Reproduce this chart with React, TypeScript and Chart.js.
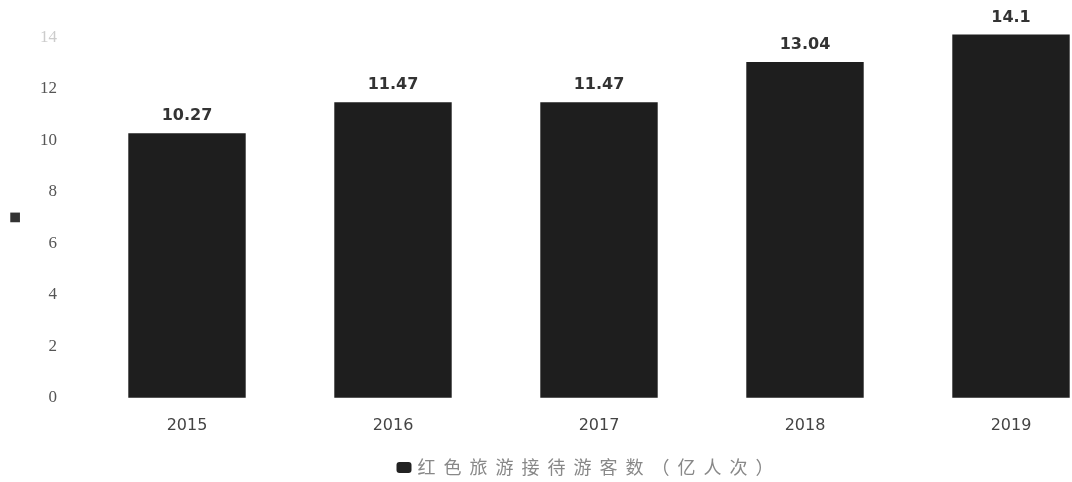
import React, { useEffect, useRef } from "react";
import { Chart, registerables } from "chart.js";

Chart.register(...registerables);

const categories = ["2015", "2016", "2017", "2018", "2019"];
const visitors = [10.27, 11.47, 11.47, 13.04, 14.1];
const yTicks = [0, 2, 4, 6, 8, 10, 12, 14];
const seriesLabel = "红色旅游接待游客数（亿人次）";

const valueLabels = {
  id: "valueLabels",
  afterDatasetsDraw(chart: any) {
    const ctx = chart.ctx;
    const meta = chart.getDatasetMeta(0);
    ctx.save();
    ctx.font = "bold 16px 'DejaVu Sans', sans-serif";
    ctx.fillStyle = "#333";
    ctx.textAlign = "center";
    ctx.textBaseline = "alphabetic";
    meta.data.forEach((bar: any, i: number) => {
      ctx.fillText(String(visitors[i]), bar.x, bar.y - 13);
    });
    ctx.restore();
  },
};

const bottomLegend = {
  id: "bottomLegend",
  afterDraw(chart: any) {
    const ctx = chart.ctx;
    ctx.save();
    ctx.font = "18px 'Noto Sans CJK SC', sans-serif";
    (ctx as any).letterSpacing = "8px";
    const tw = ctx.measureText(seriesLabel).width;
    const boxW = 15;
    const gap = 6;
    const total = boxW + gap + tw;
    const cx = chart.width / 2;
    const cy = 467;
    const x0 = cx - total / 2;
    ctx.fillStyle = "#222";
    ctx.beginPath();
    (ctx as any).roundRect(x0, cy - 5, boxW, 11, 3);
    ctx.fill();
    ctx.fillStyle = "#888";
    ctx.textAlign = "left";
    ctx.textBaseline = "middle";
    ctx.fillText(seriesLabel, x0 + boxW + gap, cy);
    ctx.restore();
  },
};

export default function App() {
  const ref = useRef<HTMLCanvasElement | null>(null);
  useEffect(() => {
    document.body.style.margin = "0";
    document.body.style.overflow = "hidden";
    const chart = new Chart(ref.current as HTMLCanvasElement, {
      type: "bar",
      data: {
        labels: categories,
        datasets: [
          {
            label: seriesLabel,
            data: visitors,
            backgroundColor: "#1e1e1e",
            barPercentage: 0.57,
            categoryPercentage: 1,
            clip: false as any,
          },
        ],
      },
      options: {
        animation: false,
        responsive: true,
        maintainAspectRatio: false,
        layout: { padding: { top: 36, right: 64, bottom: 29, left: 0 } },
        plugins: {
          legend: { display: false },
          tooltip: { enabled: false },
        },
        scales: {
          x: {
            offset: true,
            grid: { display: false, drawTicks: false },
            border: { display: false },
            ticks: {
              padding: 18,
              color: "#444",
              font: { family: "'DejaVu Sans', sans-serif", size: 16 },
            },
          },
          y: {
            min: 0,
            max: 14,
            afterBuildTicks: (scale: any) => {
              scale.ticks = yTicks.map((v) => ({ value: v }));
            },
            afterFit: (scale: any) => {
              scale.width = 84;
            },
            grid: { display: false, drawTicks: false },
            border: { display: false },
            title: {
              display: true,
              text: "■",
              color: "#333",
              font: { size: 20 },
              padding: { top: 3, bottom: 0 },
            },
            ticks: {
              padding: 27,
              color: (c: any) => (c.tick && c.tick.value === 14 ? "#ccc" : "#555"),
              font: { family: "'Liberation Serif', serif", size: 17 },
            },
          },
        },
      },
      plugins: [valueLabels, bottomLegend],
    });
    return () => chart.destroy();
  }, []);
  return (
    <div style={{ position: "fixed", left: 0, top: 0, width: 1072, height: 482, overflow: "hidden", background: "#fff" }}>
      <div style={{ position: "relative", width: 1178, height: 482 }}>
        <canvas ref={ref} />
      </div>
    </div>
  );
}
